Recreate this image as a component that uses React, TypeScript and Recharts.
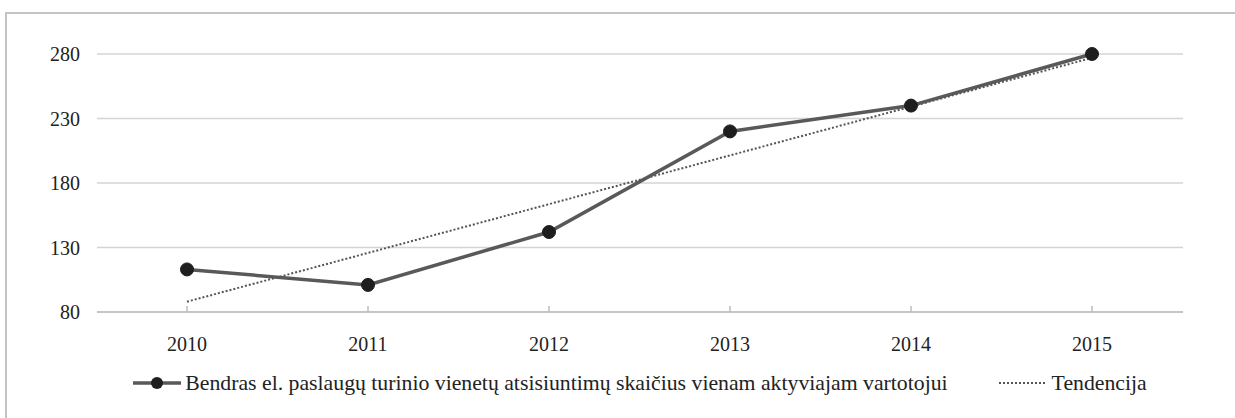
import { LineChart, Line, XAxis, YAxis, CartesianGrid, Legend } from 'recharts';

// Years on the category axis
const years = ['2010', '2011', '2012', '2013', '2014', '2015'];
// Downloads per active user
const downloads = [113, 101, 142, 220, 240, 280];
// Trend line, only the two end points
const trend = [88, null, null, null, null, 277];
const yTicks = [80, 130, 180, 230, 280];

const seriesName = 'Bendras el. paslaugų turinio vienetų atsisiuntimų skaičius vienam aktyviajam vartotojui';
const trendName = 'Tendencija';

const data = years.map((year, i) => ({ year, downloads: downloads[i], trend: trend[i] }));

const FONT = '"Liberation Serif", "Times New Roman", serif';
const X_TICK_MARGIN = 25;

// x tick: small mark pointing up from the axis line, label below
const XTick = (props: any) => {
  const { x, y, payload } = props;
  const axisY = y - X_TICK_MARGIN;
  return (
    <g>
      <line x1={x} y1={axisY} x2={x} y2={axisY - 6} stroke="#bdbdbd" strokeWidth={1.5} />
      <text x={x} y={y} dy="0.71em" textAnchor="middle" fill="#222" fontSize={20} fontFamily={FONT}>
        {payload.value}
      </text>
    </g>
  );
};

const renderLegend = () => (
  <div
    style={{
      display: 'flex',
      justifyContent: 'center',
      alignItems: 'center',
      gap: 50,
      height: 30,
      fontFamily: FONT,
      fontSize: 21.75,
      color: '#222',
      whiteSpace: 'nowrap',
    }}
  >
    <div style={{ display: 'flex', alignItems: 'center' }}>
      <svg width={48} height={16} style={{ marginRight: 4 }}>
        <line x1={0} y1={8} x2={48} y2={8} stroke="#595959" strokeWidth={3.5} />
        <circle cx={24} cy={8} r={6} fill="#1e1e1e" />
      </svg>
      <span>{seriesName}</span>
    </div>
    <div style={{ display: 'flex', alignItems: 'center' }}>
      <svg width={50} height={16} style={{ marginRight: 4 }}>
        <line x1={1} y1={8} x2={49} y2={8} stroke="#555" strokeWidth={2} strokeDasharray="2 2" />
      </svg>
      <span>{trendName}</span>
    </div>
  </div>
);

export default function App() {
  return (
    <div style={{ position: 'fixed', left: 0, top: 0, width: 1235, height: 418, background: '#fff', overflow: 'hidden' }}>
      {/* outer frame, only left and top edges visible */}
      <svg width={1235} height={418} style={{ position: 'absolute', left: 0, top: 0, display: 'block' }}>
        <line x1={6} y1={13} x2={6} y2={418} stroke="#c4c4c4" strokeWidth={2} />
        <line x1={5} y1={13} x2={1235} y2={13} stroke="#c4c4c4" strokeWidth={2} />
      </svg>
      <div style={{ position: 'absolute', left: 0, top: 0 }}>
        <LineChart width={1235} height={418} data={data} margin={{ top: 54, right: 52, left: 0, bottom: 20 }}>
          <CartesianGrid vertical={false} stroke="#d4d4d4" strokeWidth={1.5} />
          <XAxis
            dataKey="year"
            padding={{ left: 90, right: 91 }}
            height={56}
            stroke="#bdbdbd"
            strokeWidth={1.5}
            tickLine={false}
            tickSize={0}
            tickMargin={X_TICK_MARGIN}
            tick={<XTick />}
          />
          <YAxis
            domain={[80, 280]}
            ticks={yTicks}
            width={97}
            axisLine={false}
            tickLine={false}
            tickSize={0}
            tickMargin={17}
            tick={{ fill: '#222', fontSize: 20, fontFamily: FONT }}
          />
          <Legend verticalAlign="bottom" content={renderLegend} wrapperStyle={{ left: 97, width: 1086 }} />
          <Line
            type="linear"
            dataKey="trend"
            name={trendName}
            stroke="#555"
            strokeWidth={2}
            strokeDasharray="2 2"
            dot={false}
            connectNulls
            isAnimationActive={false}
          />
          <Line
            type="linear"
            dataKey="downloads"
            name={seriesName}
            stroke="#595959"
            strokeWidth={3.5}
            dot={{ r: 6.5, fill: '#1e1e1e', stroke: '#1e1e1e', strokeWidth: 1 }}
            activeDot={false}
            isAnimationActive={false}
          />
        </LineChart>
      </div>
    </div>
  );
}
